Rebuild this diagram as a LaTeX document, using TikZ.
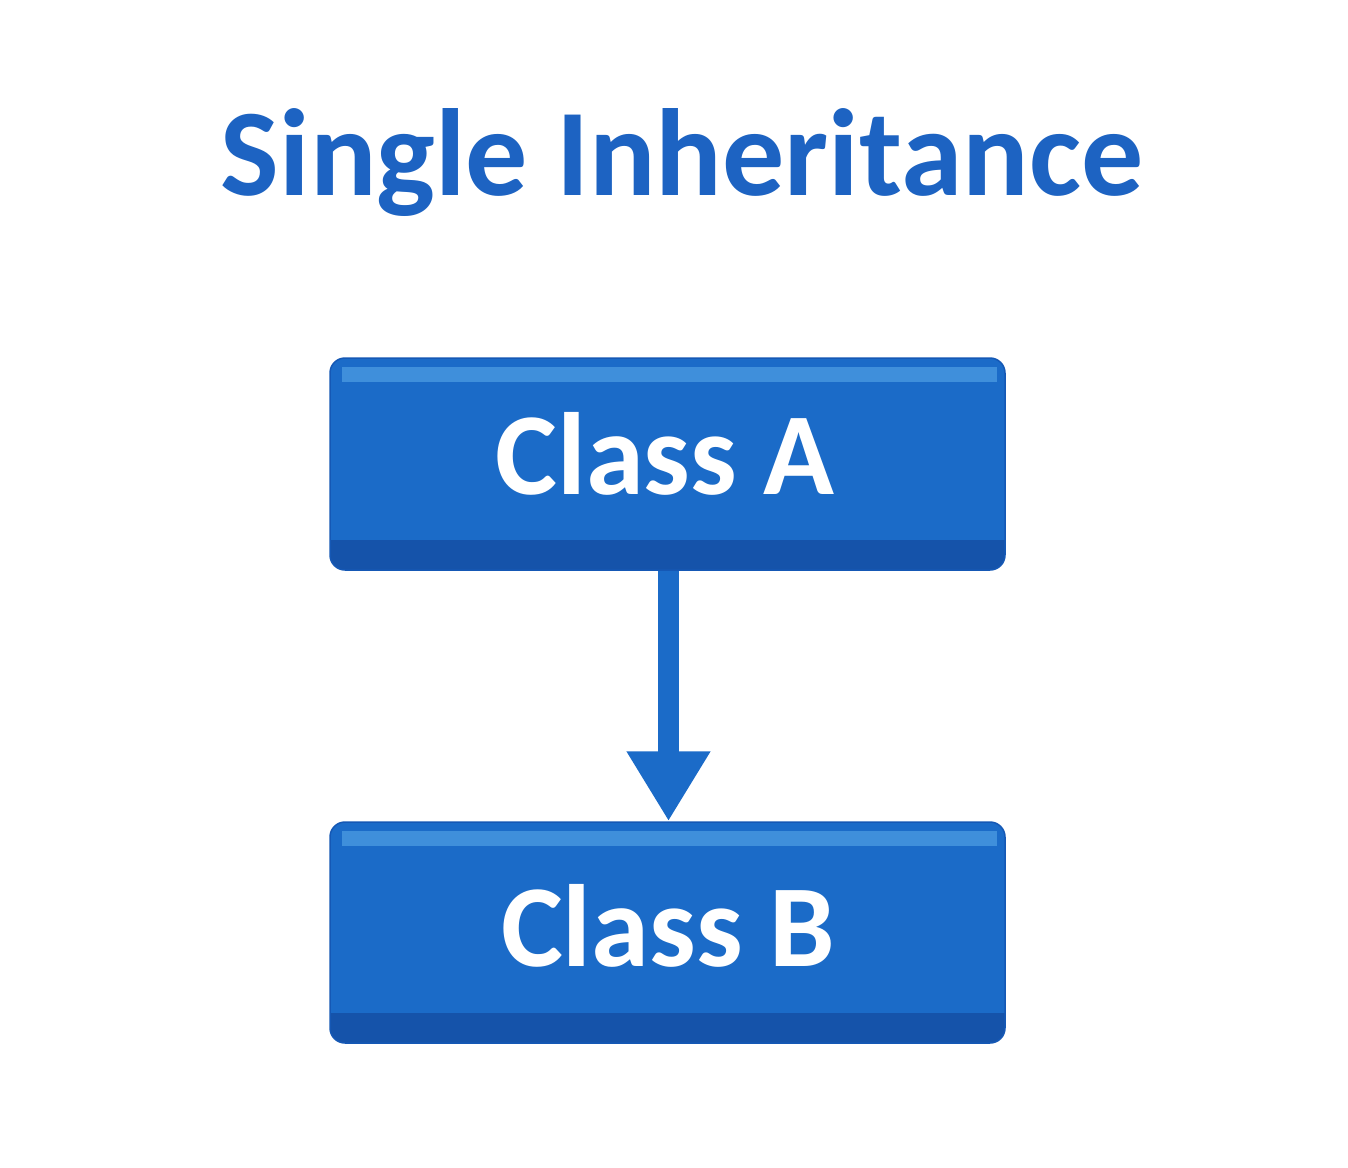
\documentclass[tikz,border=0pt]{standalone}
\usepackage{fontspec}
\setmainfont{Carlito}
\usetikzlibrary{arrows.meta}
\definecolor{boxblue}{HTML}{1B6BC8}
\definecolor{boxdark}{HTML}{1553AA}
\definecolor{boxedge}{HTML}{1558B5}
\definecolor{boxlight}{HTML}{3F8FDB}
\definecolor{titleblue}{HTML}{1D63C2}
\tikzset{
  classbox/.style={fill=boxblue, draw=boxedge, line width=1.5pt, rounded corners=15pt, minimum width=675pt,
    inner sep=0pt,
    path picture={
      \fill[boxdark, sharp corners] (path picture bounding box.south west) rectangle ([yshift=30pt]path picture bounding box.south east);
      \fill[boxlight, sharp corners] ([xshift=12pt,yshift=-9pt]path picture bounding box.north west) rectangle ([xshift=-8pt,yshift=-24pt]path picture bounding box.north east);
    }},
  classtext/.style={text=white, font=\fontsize{117}{125}\selectfont\bfseries, anchor=base},
  inherit/.style={draw=boxblue, line width=21pt, -{Triangle[width=79pt,length=70pt]}}
}
\begin{document}
\begin{tikzpicture}[x=1pt,y=-1pt]
\useasboundingbox[fill=white] (0,0) rectangle (1348,1167);
\node[text=titleblue, font=\fontsize{124}{132}\selectfont\bfseries, anchor=base] (title) at (682,195) {Single Inheritance};
\node[classbox, minimum height=212pt] (A) at (667.5,464) {};
\node[classbox, minimum height=221pt] (B) at (667.5,932.5) {};
\node[classtext] (tA) at (665,494) {Class A};
\node[classtext] (tB) at (668,966) {Class B};
\draw[inherit] (A.south) ++(1,0) coordinate (s) -- (s |- B.north);
\end{tikzpicture}
\end{document}
